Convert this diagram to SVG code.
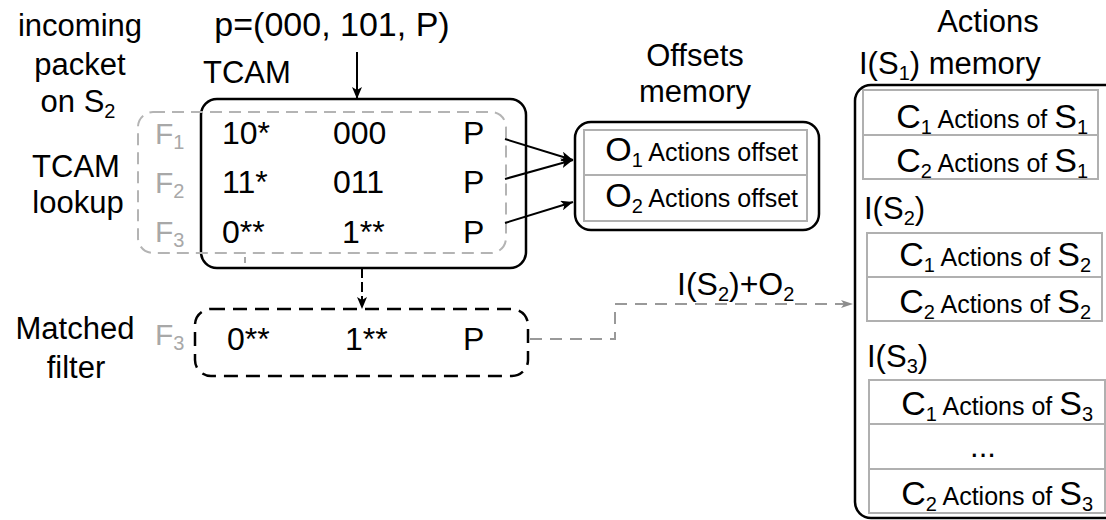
<svg xmlns="http://www.w3.org/2000/svg" width="1106" height="520" viewBox="0 0 1106 520">
<defs>
<style>
text{font-family:"Liberation Sans",Arial,sans-serif;fill:#000;}
.t{font-size:31px;}
.d{font-size:32px;}
.g{fill:#a8a8a8;font-size:30px;}
.sub{font-size:20px;}
.big{font-size:34px;}
.sm{font-size:25px;}
.box{fill:none;stroke:#000;stroke-width:2.5;}
.cell{fill:#fff;stroke:#b0b0b0;stroke-width:2;}
.con{fill:none;stroke:#000;stroke-width:2;}
</style>
<marker id="ah" viewBox="0 0 12 10" refX="12" refY="5" markerWidth="12" markerHeight="10" markerUnits="userSpaceOnUse" orient="auto">
<path d="M0,0 L12,5 L0,10 L3,5 Z" fill="#000"/>
</marker>
<marker id="ahg" viewBox="0 0 12 10" refX="12" refY="5" markerWidth="12" markerHeight="10" markerUnits="userSpaceOnUse" orient="auto">
<path d="M0,1 L12,5 L0,9 L3,5 Z" fill="#8c8c8c"/>
</marker>
</defs>

<g id="labels">
<text class="t" x="80" y="36" text-anchor="middle">incoming</text>
<text class="t" x="80" y="75" text-anchor="middle">packet</text>
<text class="t" x="78" y="112" text-anchor="middle">on S<tspan class="sub" dy="6">2</tspan></text>
<text class="t" x="76" y="177" text-anchor="middle">TCAM</text>
<text class="t" x="78" y="213" text-anchor="middle">lookup</text>
<text class="t" x="75" y="339" text-anchor="middle">Matched</text>
<text class="t" x="76" y="378" text-anchor="middle">filter</text>
<text class="t" x="332" y="36" text-anchor="middle" style="font-size:34px">p=(000, 101, P)</text>
</g>

<g id="tcam">
<text class="t" x="203" y="83">TCAM</text>
<rect class="box" x="201" y="99" width="325" height="169" rx="16"/>
<rect x="138" y="112" width="368" height="141" rx="15" fill="none" stroke="#b4b4b4" stroke-width="2" stroke-dasharray="12 7"/>
<line x1="245" y1="257" x2="245" y2="263" stroke="#888" stroke-width="1.5"/>
<text class="g" x="155" y="144">F<tspan class="sub" dy="5">1</tspan></text>
<text class="g" x="155" y="193">F<tspan class="sub" dy="5">2</tspan></text>
<text class="g" x="155" y="242">F<tspan class="sub" dy="5">3</tspan></text>
<text class="d" x="222" y="144">10*</text>
<text class="d" x="333" y="144">000</text>
<text class="d" x="463" y="144">P</text>
<text class="d" x="222" y="193">11*</text>
<text class="d" x="333" y="193">011</text>
<text class="d" x="463" y="193">P</text>
<text class="d" x="222" y="243">0**</text>
<text class="d" x="342" y="243">1**</text>
<text class="d" x="463" y="243">P</text>
</g>

<g id="matched">
<rect x="195" y="309" width="333" height="67" rx="16" fill="none" stroke="#000" stroke-width="2.5" stroke-dasharray="14 8"/>
<text class="g" x="155" y="345">F<tspan class="sub" dy="5">3</tspan></text>
<text class="d" x="227" y="350">0**</text>
<text class="d" x="345" y="350">1**</text>
<text class="d" x="463" y="350">P</text>
</g>

<g id="offsets">
<text class="t" x="695" y="66" text-anchor="middle">Offsets</text>
<text class="t" x="695" y="102" text-anchor="middle">memory</text>
<rect class="box" x="575" y="122" width="244" height="108" rx="16"/>
<rect class="cell" x="584" y="130" width="223" height="45"/>
<rect class="cell" x="584" y="175" width="223" height="46"/>
<text x="798" y="161" text-anchor="end"><tspan class="big">O</tspan><tspan class="sub" dy="6">1</tspan><tspan class="sm" dy="-6"> Actions offset</tspan></text>
<text x="798" y="207" text-anchor="end"><tspan class="big">O</tspan><tspan class="sub" dy="6">2</tspan><tspan class="sm" dy="-6"> Actions offset</tspan></text>
</g>

<g id="actions">
<text class="t" x="988" y="32" text-anchor="middle">Actions</text>
<text class="t" x="859" y="74">I(S<tspan class="sub" dy="6">1</tspan><tspan dy="-6">)</tspan> memory</text>
<rect class="box" x="855" y="85" width="300" height="433" rx="16"/>
<rect class="cell" x="863" y="90" width="235" height="45"/>
<rect class="cell" x="863" y="135" width="235" height="44"/>
<text x="1088" y="128" text-anchor="end"><tspan class="big">C</tspan><tspan class="sub" dy="6">1</tspan><tspan class="sm" dy="-6"> Actions of </tspan><tspan class="big">S</tspan><tspan class="sub" dy="6">1</tspan></text>
<text x="1088" y="172" text-anchor="end"><tspan class="big">C</tspan><tspan class="sub" dy="6">2</tspan><tspan class="sm" dy="-6"> Actions of </tspan><tspan class="big">S</tspan><tspan class="sub" dy="6">1</tspan></text>
<text class="t" x="864" y="219">I(S<tspan class="sub" dy="6">2</tspan><tspan dy="-6">)</tspan></text>
<rect class="cell" x="867" y="233" width="235" height="44"/>
<rect class="cell" x="867" y="277" width="235" height="44"/>
<text x="1091" y="266" text-anchor="end"><tspan class="big">C</tspan><tspan class="sub" dy="6">1</tspan><tspan class="sm" dy="-6"> Actions of </tspan><tspan class="big">S</tspan><tspan class="sub" dy="6">2</tspan></text>
<text x="1091" y="313" text-anchor="end"><tspan class="big">C</tspan><tspan class="sub" dy="6">2</tspan><tspan class="sm" dy="-6"> Actions of </tspan><tspan class="big">S</tspan><tspan class="sub" dy="6">2</tspan></text>
<text class="t" x="867" y="367">I(S<tspan class="sub" dy="6">3</tspan><tspan dy="-6">)</tspan></text>
<rect class="cell" x="869" y="380" width="236" height="44"/>
<rect class="cell" x="869" y="424" width="236" height="45"/>
<rect class="cell" x="869" y="469" width="236" height="44"/>
<text x="1093" y="415" text-anchor="end"><tspan class="big">C</tspan><tspan class="sub" dy="6">1</tspan><tspan class="sm" dy="-6"> Actions of </tspan><tspan class="big">S</tspan><tspan class="sub" dy="6">3</tspan></text>
<text class="t" x="983" y="457" text-anchor="middle">...</text>
<text x="1093" y="505" text-anchor="end"><tspan class="big">C</tspan><tspan class="sub" dy="6">2</tspan><tspan class="sm" dy="-6"> Actions of </tspan><tspan class="big">S</tspan><tspan class="sub" dy="6">3</tspan></text>
</g>

<g id="connectors">
<line class="con" x1="357" y1="52" x2="357" y2="99" marker-end="url(#ah)"/>
<line class="con" x1="505" y1="139" x2="573" y2="160" marker-end="url(#ah)"/>
<line class="con" x1="505" y1="179" x2="573" y2="160" marker-end="url(#ah)"/>
<line class="con" x1="505" y1="223" x2="573" y2="202" marker-end="url(#ah)"/>
<line class="con" x1="362" y1="268" x2="362" y2="309" stroke-dasharray="10 4" marker-end="url(#ah)"/>
<path d="M530,339 H615 V304 H853" fill="none" stroke="#999" stroke-width="2" stroke-dasharray="12 8" marker-end="url(#ahg)"/>
<text class="t" x="677" y="295" style="font-size:32px">I(S<tspan class="sub" dy="6">2</tspan><tspan dy="-6">)+O</tspan><tspan class="sub" dy="6">2</tspan></text>
</g>
</svg>
